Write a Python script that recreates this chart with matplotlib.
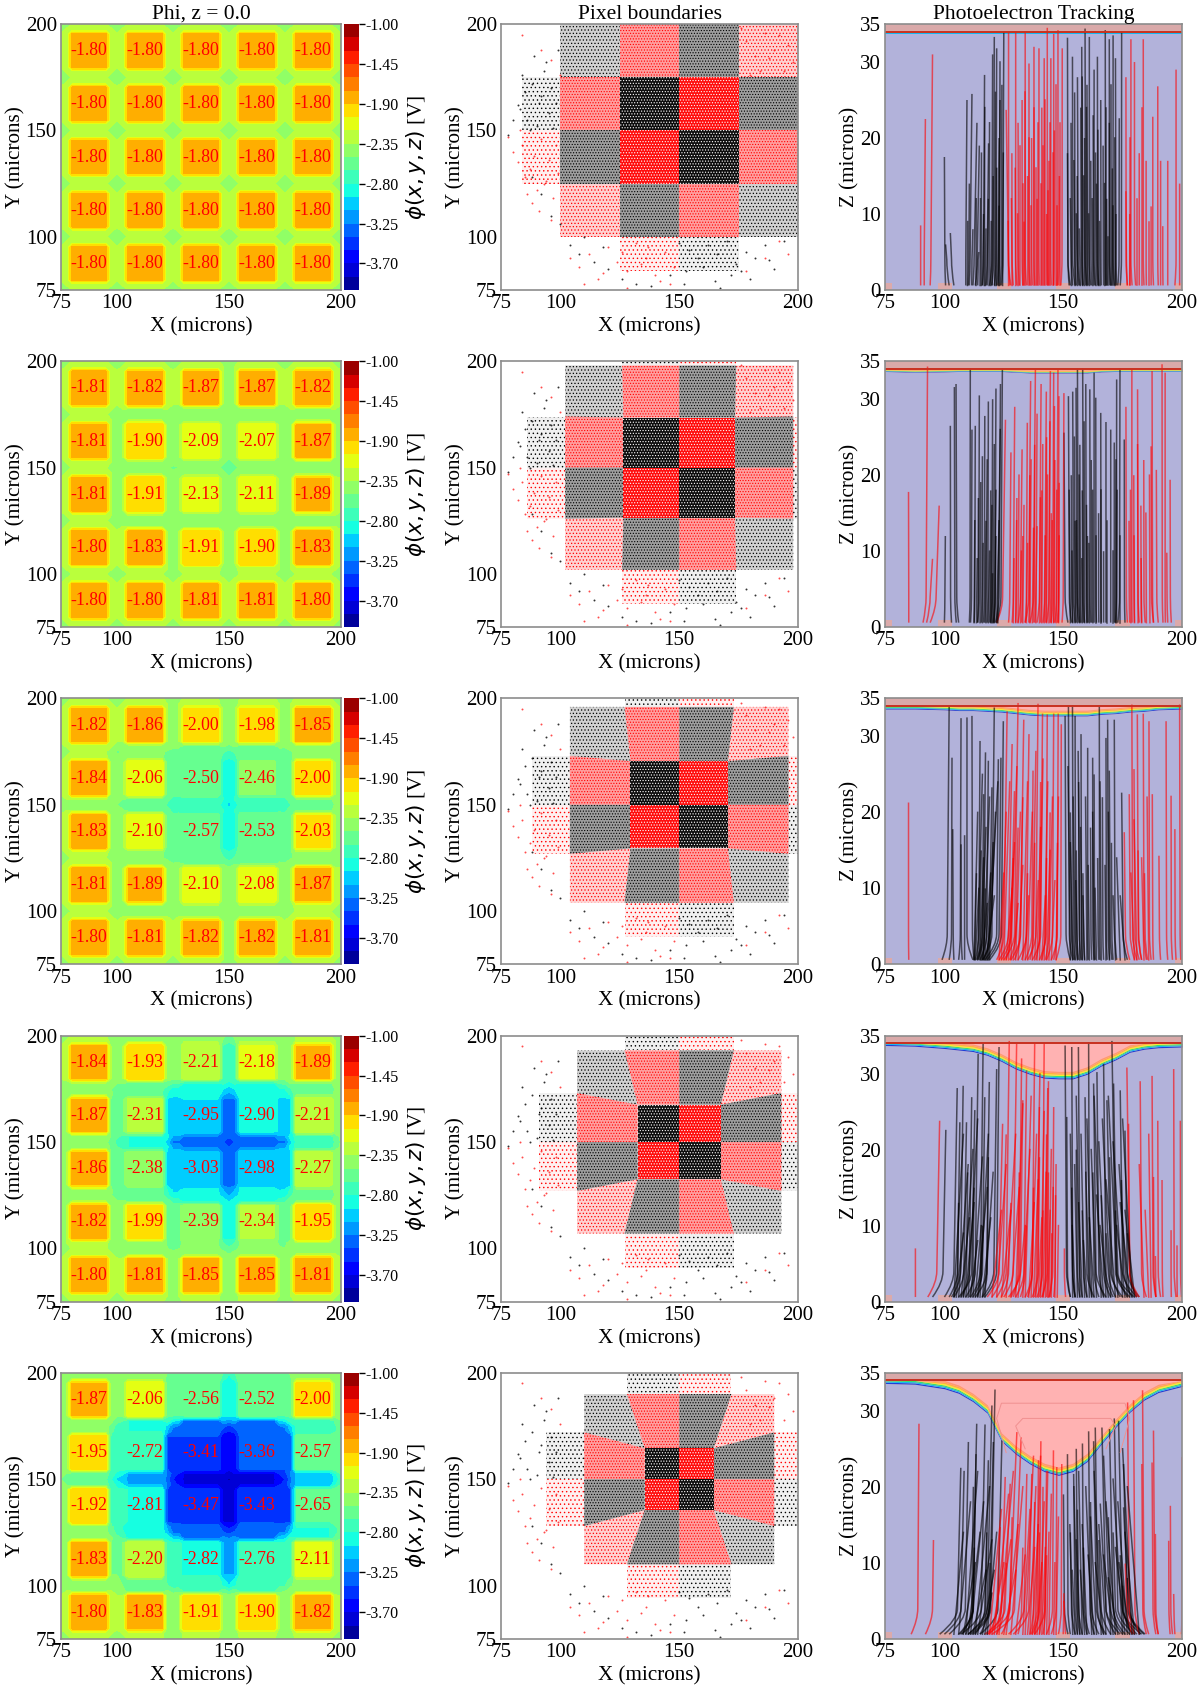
import numpy as np
import matplotlib
matplotlib.use('Agg')
import matplotlib.pyplot as plt
from matplotlib.colors import to_rgba
from matplotlib.patches import Polygon, Rectangle, PathPatch
from matplotlib.path import Path

plt.rcParams['font.family'] = ['Liberation Serif', 'DejaVu Sans']
plt.rcParams['mathtext.fontset'] = 'dejavusans'
plt.rcParams['hatch.linewidth'] = 0.5

# potential table, rows from y=200 to y=75, columns x=75..200 in 12.5 micron steps
# odd rows / columns are the pixel wells, even ones the channels between them
ch = [-2.44, -2.34, -2.44, -2.34, -2.44, -2.34, -2.44, -2.34, -2.44, -2.34, -2.44]
phi_1 = [ch, [-2.34, -1.80, -2.34, -1.80, -2.34, -1.80, -2.34, -1.80, -2.34, -1.80, -2.34]] * 5 + [ch]
phi_2 = [ch,
         [-2.34, -1.81, -2.34, -1.82, -2.34, -1.87, -2.36, -1.87, -2.34, -1.82, -2.34],
         [-2.44, -2.34, -2.44, -2.36, -2.46, -2.44, -2.50, -2.44, -2.46, -2.36, -2.44],
         [-2.34, -1.81, -2.36, -1.90, -2.42, -2.09, -2.48, -2.07, -2.42, -1.87, -2.36],
         [-2.44, -2.34, -2.46, -2.44, -2.52, -2.48, -2.60, -2.48, -2.50, -2.42, -2.44],
         [-2.34, -1.81, -2.36, -1.91, -2.42, -2.13, -2.48, -2.11, -2.42, -1.89, -2.34],
         [-2.44, -2.34, -2.44, -2.36, -2.46, -2.44, -2.50, -2.42, -2.46, -2.36, -2.44],
         [-2.34, -1.80, -2.34, -1.83, -2.36, -1.91, -2.38, -1.90, -2.36, -1.83, -2.34],
         ch,
         [-2.34, -1.80, -2.34, -1.80, -2.34, -1.81, -2.34, -1.81, -2.34, -1.80, -2.34],
         ch]
phi_3 = [[-2.44, -2.34, -2.44, -2.34, -2.42, -2.34, -2.50, -2.34, -2.42, -2.34, -2.44],
         [-2.34, -1.82, -2.34, -1.86, -2.36, -2.00, -2.40, -1.98, -2.36, -1.85, -2.34],
         [-2.42, -2.34, -2.52, -2.48, -2.56, -2.56, -2.70, -2.56, -2.58, -2.46, -2.44],
         [-2.34, -1.84, -2.42, -2.06, -2.62, -2.50, -2.85, -2.46, -2.60, -2.00, -2.36],
         [-2.42, -2.36, -2.50, -2.58, -2.78, -2.75, -3.00, -2.75, -2.78, -2.54, -2.44],
         [-2.34, -1.83, -2.40, -2.10, -2.62, -2.57, -2.85, -2.53, -2.60, -2.03, -2.36],
         [-2.42, -2.34, -2.50, -2.48, -2.60, -2.56, -2.72, -2.56, -2.60, -2.44, -2.44],
         [-2.34, -1.81, -2.36, -1.89, -2.40, -2.10, -2.46, -2.08, -2.38, -1.87, -2.34],
         [-2.42, -2.34, -2.44, -2.36, -2.46, -2.36, -2.50, -2.36, -2.44, -2.34, -2.44],
         [-2.34, -1.80, -2.34, -1.81, -2.34, -1.82, -2.36, -1.82, -2.34, -1.81, -2.34],
         ch]
phi_4 = [[-2.44, -2.34, -2.44, -2.36, -2.46, -2.36, -2.55, -2.36, -2.46, -2.34, -2.44],
         [-2.34, -1.84, -2.38, -1.93, -2.46, -2.21, -2.70, -2.18, -2.44, -1.89, -2.36],
         [-2.44, -2.38, -2.62, -2.62, -2.86, -2.85, -3.02, -2.85, -2.80, -2.54, -2.44],
         [-2.36, -1.87, -2.56, -2.31, -2.98, -2.95, -3.28, -2.90, -2.98, -2.21, -2.42],
         [-2.44, -2.46, -2.70, -2.80, -3.28, -3.28, -3.50, -3.28, -3.28, -2.76, -2.48],
         [-2.36, -1.86, -2.58, -2.38, -3.02, -3.03, -3.30, -2.98, -3.00, -2.27, -2.42],
         [-2.44, -2.38, -2.60, -2.60, -2.92, -2.92, -3.12, -2.92, -2.88, -2.54, -2.44],
         [-2.36, -1.82, -2.40, -1.99, -2.56, -2.39, -2.84, -2.34, -2.54, -1.95, -2.36],
         [-2.44, -2.34, -2.44, -2.46, -2.54, -2.48, -2.62, -2.48, -2.50, -2.36, -2.44],
         [-2.34, -1.80, -2.34, -1.81, -2.36, -1.85, -2.40, -1.85, -2.36, -1.81, -2.34],
         ch]
phi_5 = [[-2.44, -2.36, -2.46, -2.44, -2.56, -2.54, -2.78, -2.54, -2.56, -2.40, -2.46],
         [-2.36, -1.87, -2.46, -2.06, -2.62, -2.56, -2.92, -2.52, -2.62, -2.00, -2.44],
         [-2.46, -2.44, -2.72, -2.80, -3.22, -3.30, -3.42, -3.30, -3.22, -2.78, -2.56],
         [-2.40, -1.95, -2.74, -2.72, -3.40, -3.41, -3.68, -3.36, -3.38, -2.57, -2.56],
         [-2.50, -2.62, -2.98, -3.12, -3.55, -3.72, -3.88, -3.72, -3.55, -3.08, -2.72],
         [-2.40, -1.92, -2.76, -2.81, -3.42, -3.47, -3.72, -3.43, -3.42, -2.65, -2.56],
         [-2.46, -2.46, -2.70, -2.86, -3.28, -3.32, -3.46, -3.30, -3.25, -2.80, -2.58],
         [-2.40, -1.83, -2.50, -2.20, -2.78, -2.82, -3.10, -2.76, -2.76, -2.11, -2.44],
         [-2.44, -2.36, -2.44, -2.56, -2.74, -2.70, -2.96, -2.70, -2.66, -2.42, -2.44],
         [-2.34, -1.80, -2.34, -1.83, -2.40, -1.91, -2.42, -1.90, -2.38, -1.82, -2.34],
         ch]
phi_tables = [phi_1, phi_2, phi_3, phi_4, phi_5]

# sample position, table index, neighbouring well index for the channel shoulders (-1 = none)
grid_x = [75, 77.5, 80, 95, 97.5, 100, 102.5, 105, 120, 122.5, 125, 127.5, 130, 145, 147.5, 150, 152.5,
          155, 170, 172.5, 175, 177.5, 180, 195, 197.5, 200]
grid_i = [0, 0, 1, 1, 2, 2, 2, 3, 3, 4, 4, 4, 5, 5, 6, 6, 6, 7, 7, 8, 8, 8, 9, 9, 10, 10]
grid_n = [-1, 1, -1, -1, 1, -1, 3, -1, -1, 3, -1, 5, -1, -1, 5, -1, 7, -1, -1, 7, -1, 9, -1, -1, 9, -1]
well_x = [87.5, 112.5, 137.5, 162.5, 187.5]
color_levels = [-4.0 + 0.15 * i for i in range(21)]
cbar_ticks = [-1.00, -1.45, -1.90, -2.35, -2.80, -3.25, -3.70]

# pixel boundaries: half size of the inner cell, reach of the side cells, height of
# the side cells at their outer end
cell_a = [25, 23.5, 20.5, 17.5, 14.5]
cell_b = [50, 48, 46, 43, 40]
cell_d = [25, 24, 23, 23, 22]

# stray electrons outside the pixels, the same in every row
stray_black_x = [83, 85, 86, 88, 90, 91, 93, 95, 96, 80, 84, 89, 92, 94, 97, 98, 99, 87, 82, 78,
                 150, 154, 158, 162, 166, 170, 174, 178, 182, 186, 190, 194, 153, 160, 165, 172, 180, 188,
                 88, 92, 96, 100, 104, 108, 114, 120, 126, 132, 138, 110, 118, 146, 152, 167, 176]
stray_black_y = [160, 168, 155, 172, 152, 163, 178, 158, 170, 155, 176, 185, 166, 182, 151, 163, 188, 150, 162, 148,
                 97, 94, 90, 96, 92, 98, 87, 93, 90, 96, 85, 98, 84, 86, 79, 82, 80, 89,
                 128, 120, 110, 106, 96, 92, 88, 85, 80, 78, 77, 100, 95, 82, 78, 76, 84]
stray_red_x = [78, 80, 82, 84, 85, 87, 89, 90, 92, 94, 95, 97, 98, 99, 83, 86, 88, 91, 93, 96,
               104, 108, 112, 116, 120, 124, 128, 132, 136, 140, 144, 148, 110, 118, 126, 134, 142, 128, 137, 146,
               178, 182, 186, 190, 194, 198, 176, 184, 192, 196, 180, 188,
               84, 92, 100, 96, 192, 196, 186, 178]
stray_red_y = [147, 140, 135, 143, 128, 132, 138, 122, 146, 126, 136, 118, 143, 130, 150, 120, 116, 112, 125, 108,
               90, 86, 92, 80, 95, 88, 84, 97, 90, 82, 93, 86, 78, 83, 93, 87, 79, 76, 95, 78,
               192, 185, 196, 188, 178, 182, 198, 178, 195, 190, 176, 184,
               195, 188, 176, 183, 98, 92, 90, 84]

# depletion edge, z against x
edge_x = [75, 87.5, 100, 106, 112, 118, 124, 130, 136, 142, 148, 154, 160, 166, 172, 178, 184, 190, 200]
edge_1 = [33.7] * 19
edge_2 = [33.65, 33.55, 33.6, 33.65, 33.65, 33.65, 33.65, 33.55, 33.45, 33.45, 33.45, 33.45, 33.45, 33.6, 33.65, 33.65, 33.65, 33.65, 33.65]
edge_3 = [33.6, 33.6, 33.5, 33.4, 33.4, 33.3, 33.2, 33.0, 32.8, 32.7, 32.7, 32.7, 32.7, 32.9, 33.0, 33.2, 33.3, 33.5, 33.6]
edge_4 = [33.7, 33.6, 33.3, 33.1, 32.9, 32.4, 31.6, 30.6, 29.9, 29.4, 29.3, 29.3, 29.9, 31.0, 31.8, 32.8, 33.2, 33.4, 33.5]
edge_5 = [33.6, 33.5, 32.9, 32.3, 31.2, 29.7, 26.0, 24.3, 23.0, 22.0, 21.5, 22.0, 23.3, 25.6, 27.8, 29.8, 31.4, 32.4, 33.2]
edges = [edge_1, edge_2, edge_3, edge_4, edge_5]
layer_depth = [0.3, 0.4, 0.75, 1.0, 1.1]
gate_x = [(75, 78), (97.5, 103), (122, 128), (147, 153), (172, 178), (197, 200)]

# tracks: x at z=0.6, x at z=4, x at the top, z at the top
black_1 = [(100.5, 100.2, 100, 17.5), (104, 103, 102.5, 7.5), (102, 101, 100.5, 6), (109, 109, 109.5, 25),
           (110.5, 110.8, 111.6, 25.8), (112, 112.5, 113.7, 22), (113, 113.8, 114.7, 19), (110, 110.3, 110.5, 14),
           (111.5, 111.6, 112, 8), (114, 114.2, 114.5, 5), (116, 116.5, 116.9, 28.3), (117.5, 118, 118.6, 19.3),
           (119, 120, 120.3, 31), (120, 120.7, 121, 33.3), (121, 121.7, 122, 31.8), (122.5, 123, 123.4, 25),
           (124, 124.6, 125, 34), (118, 118.2, 118.5, 12), (120, 120.3, 120.5, 15), (116, 116.2, 116.5, 10),
           (122, 122.5, 123, 20), (123.5, 124, 124.2, 27), (153, 152, 151.8, 33.2), (155, 154, 153.9, 30.7),
           (157, 156.3, 156, 28), (158.5, 158, 157.8, 32), (160, 159.4, 159.2, 34.4), (161.5, 161, 161, 33.3),
           (163.5, 163, 163, 29), (165, 164.5, 164.4, 30.7), (168, 167.8, 167.7, 34.2), (170, 169.5, 169.4, 33),
           (171.5, 171, 171, 33.5), (172.5, 172.2, 172, 30.5), (174, 174.5, 174.6, 34), (173, 173.5, 173.6, 22.6),
           (152.5, 152, 151.8, 18), (154, 153.5, 153.3, 22), (155.5, 155, 154.8, 26), (156.5, 156, 155.9, 15),
           (158, 157.6, 157.4, 24), (159.5, 159.2, 159, 20), (160.5, 160.2, 160, 27), (162, 161.7, 161.6, 17),
           (163, 162.8, 162.6, 23), (164.5, 164.2, 164, 14), (166, 165.9, 165.8, 25), (167, 166.9, 166.8, 19),
           (168.5, 168.4, 168.3, 12), (169.5, 169.4, 169.4, 22), (170.5, 170.6, 170.7, 16), (172, 172.1, 172.2, 10)]
red_1 = [(90, 90, 90, 8.5), (91.5, 91.5, 92, 22.5), (94, 94.3, 95, 31), (128, 127, 126, 23.7), (127.5, 127, 127, 34),
         (130.5, 130, 130, 34), (133, 132.7, 132.7, 25), (134.5, 134, 134, 34), (136, 135.6, 135.6, 29.8),
         (138, 137.7, 137.7, 32), (140, 139.8, 139.8, 31.8), (142, 142, 142, 30.5), (143.5, 143.3, 143.3, 34.5),
         (145, 144.8, 144.8, 30.5), (146, 146, 146, 33.7), (147.5, 147.8, 147.8, 34.2), (149, 149.5, 149.6, 31.8),
         (129, 128.5, 128.4, 18), (131.5, 131.2, 131, 22), (135, 135, 135, 15), (137, 136.8, 136.7, 20),
         (139, 139, 139, 12), (141, 141, 141, 24), (144, 144, 144, 17), (146, 146.2, 146.3, 21), (148, 148.3, 148.4, 15),
         (143, 143, 143, 10), (133.5, 133.5, 133.5, 9), (177, 176.5, 176.4, 28), (179, 178.5, 178.5, 33),
         (180.5, 180, 180, 30), (184, 183.7, 183.7, 33), (188, 187.7, 187.7, 22.8), (190, 189.8, 189.8, 26.8),
         (191, 191, 191, 17), (194, 194, 194, 17), (197, 197.5, 197.5, 29), (199, 199, 199, 14), (182, 182, 182, 18),
         (185, 184.9, 184.9, 17), (192, 191.9, 191.9, 8.4), (187, 187, 187, 11), (177, 176.6, 176.4, 13), (178, 178, 178, 10)]
black_2 = [(100, 100.2, 100.4, 12), (103, 102.6, 102.5, 26.5), (105, 104.4, 104.2, 31.6), (106, 105.2, 104.9, 32),
           (110.5, 110.8, 110.9, 34), (111, 111.4, 111.6, 26), (112.5, 112.8, 113, 26.5), (114, 114.5, 114.7, 30.5),
           (115.5, 115.8, 116, 22.5), (116.5, 116.8, 117, 27.8), (118, 118.3, 118.5, 29.7), (119.5, 120, 120.3, 30),
           (120.5, 121.3, 121.7, 31.4), (121.5, 123, 123.6, 32), (122, 123.8, 124.4, 34), (117, 117.3, 117.5, 14),
           (114, 114.2, 114.3, 17), (119, 119.3, 119.5, 18), (121, 121.5, 121.7, 12), (152, 150.8, 150.3, 25.6),
           (153.5, 152.6, 152.2, 30.4), (155, 154.3, 154, 31), (156.5, 155.8, 155.4, 31.5), (157, 156.3, 156, 34),
           (159, 158.5, 158.2, 34), (160, 159.7, 159.5, 32), (161.5, 161.3, 161.2, 31.3), (163, 163, 163, 33.5),
           (164, 163.8, 163.7, 30.2), (166, 165.9, 165.8, 28.2), (168, 168, 168, 27), (170, 170, 170, 26),
           (171.5, 171.5, 171.5, 24.3), (172, 172.4, 172.5, 32.6), (173, 173.7, 173.9, 34), (176, 175.8, 175.7, 24.7),
           (154, 153.6, 153.4, 20), (155.5, 155.2, 155, 14), (157.5, 157.2, 157, 24), (158.5, 158.2, 158, 18),
           (160.5, 160.3, 160.2, 12), (162, 161.9, 161.8, 22), (165, 164.9, 164.9, 15), (167, 167, 167, 10)]
red_2 = [(85, 85, 84.9, 17.8), (91, 92.3, 92.9, 34.3), (92.5, 94, 95, 9), (94, 96.5, 97.8, 16), (122, 124.5, 125.7, 27.3),
         (127, 127.5, 128, 23), (128.5, 129, 129.6, 29), (131, 132, 132.7, 23.4), (134, 135.5, 136.3, 32.4),
         (136, 137.5, 138.3, 33.9), (139, 140, 140.7, 32), (141.5, 142.3, 142.9, 31), (143, 144, 144.6, 33.7),
         (145, 145.6, 146, 33.5), (146.5, 147.3, 147.8, 33.9), (147.5, 148, 148.2, 30.4), (149.5, 150, 150.3, 30.8),
         (134, 134.5, 134.9, 26.9), (138, 138.5, 139, 13.3), (130, 130.3, 130.5, 17), (132.5, 132.8, 133, 12),
         (135.5, 135.8, 136, 20), (137.5, 137.8, 138, 24), (140.5, 140.8, 141, 18), (142.5, 142.8, 143, 25),
         (144.5, 144.8, 145, 15), (146, 146.3, 146.5, 22), (148, 148.2, 148.3, 19), (177, 176.6, 176.4, 29),
         (179, 178.9, 178.9, 33.9), (182, 181.5, 181.3, 31.3), (184.5, 184, 183.9, 22), (188, 187.2, 187, 23.8),
         (188, 187.6, 187.4, 33.7), (190, 189.4, 189.2, 20.7), (192, 191.7, 191.6, 34.6), (193, 192.9, 192.9, 33.5),
         (194, 193.7, 193.6, 9.8), (195.5, 195.1, 195, 19.4), (178, 177.8, 177.7, 14), (180, 179.8, 179.7, 20), (183, 182.8, 182.7, 16)]
black_3 = [(99, 101.2, 102, 34), (102, 103, 103.2, 27.2), (104, 103.7, 103.5, 17.8), (106, 106.7, 107, 32.4),
           (107.5, 107.1, 107, 15.8), (108.5, 108.5, 108.5, 17), (112, 109.5, 109.5, 32.5), (112.5, 111.8, 111.6, 32.7),
           (113, 114.5, 115, 29.4), (114, 116.5, 117.3, 27.9), (115, 117.8, 118.5, 26.8), (116, 120, 121, 33.8),
           (117, 122, 122.7, 27), (118, 123, 123.8, 27.2), (119, 124, 124.8, 32), (113.5, 116, 116.5, 22.4),
           (116.5, 119, 120, 23.3), (112.5, 113, 113.5, 12), (114.5, 115, 115.5, 15), (116, 116.8, 117.2, 10),
           (153, 151.2, 150.8, 32.7), (154, 152.6, 152.2, 34), (155, 154.2, 153.9, 34.1), (156, 155.2, 155, 32.7),
           (158, 157.7, 157.5, 30.3), (160.5, 160.3, 160.3, 28.5), (163, 162.5, 162.4, 27.2), (165.5, 165.3, 165.2, 34),
           (168.5, 168.2, 168, 29.8), (169.5, 169, 168.7, 32.2), (172.5, 171.8, 171.5, 32.2), (170.5, 169.8, 169.4, 25.5),
           (177, 175.2, 174.6, 22.6), (163.5, 163.2, 163, 25), (154.5, 153.5, 153, 20), (156.5, 155.8, 155.5, 15),
           (157.5, 156.8, 156.5, 24), (159, 158.5, 158.3, 12), (162, 161.7, 161.5, 18), (165, 164.7, 164.5, 14),
           (167, 166.7, 166.5, 22), (171, 170.5, 170.3, 16)]
red_3 = [(85, 84.9, 84.9, 21.3), (122, 125, 126.4, 33.3), (123, 127, 128.5, 29), (125, 129.5, 131, 34.4), (128, 132, 133.4, 32.2),
         (131, 134.5, 135.6, 30.3), (135, 138.5, 139.4, 34.3), (137, 140.5, 141.3, 33), (140, 142.8, 143.3, 32.9),
         (143, 145.5, 146, 33), (145, 147.5, 147.9, 33), (147, 149, 149.2, 31.6), (134, 136.8, 137.3, 25.5),
         (124, 128, 129.5, 22.8), (126, 128, 129, 14), (127.5, 130, 131, 18), (129.5, 132, 133, 22), (132.5, 134.5, 135, 12),
         (136, 137.5, 138, 16), (138.5, 140, 140.5, 24), (141, 142.5, 143, 14), (142.5, 144, 144.5, 20), (146, 147.3, 147.6, 16),
         (181, 179.2, 178.9, 34.2), (180, 178.2, 177.8, 22.4), (182, 180.2, 179.8, 25.7), (183, 181.6, 181.2, 32.9),
         (185, 184, 183.7, 33), (187, 186.3, 186.1, 32), (188, 187.7, 187.5, 22.4), (191, 190.5, 190.3, 14.3),
         (194, 193.5, 193.3, 32), (196, 195.5, 195.4, 22.2), (197.5, 197.1, 197, 17.8), (199.5, 199.2, 199, 34.2),
         (178, 176.2, 175.7, 17.4), (183, 181.8, 181.5, 15), (185.5, 184.5, 184.2, 12)]
black_4 = [(95, 99.4, 100.6, 22.6), (100, 104, 105.4, 28.1), (103, 106.8, 107.9, 28.4), (104, 108.2, 109.3, 23.6),
           (107, 110.5, 111.5, 26.9), (109, 113, 114.2, 32.6), (111, 115.2, 116.3, 33.9), (113, 117.8, 118.9, 28.9),
           (116, 120.8, 122, 30.6), (117, 122, 123, 33.5), (102, 105.6, 106.5, 23.6), (106, 111.5, 112.8, 25.2),
           (112, 116, 117, 26.9), (104, 105.5, 106, 13), (108, 109.3, 109.8, 17), (110.5, 112, 112.5, 15),
           (114, 115.5, 116, 10), (116, 118, 118.5, 19), (153, 151.4, 150.8, 33.7), (155, 154, 153.6, 33.5),
           (158, 157, 156.4, 33.5), (162, 161, 160.7, 34.1), (167, 165, 164.2, 30.2), (171, 168, 167, 31.3), (178, 172, 170.5, 34.3),
           (180, 172.5, 171.2, 28.7), (181, 175, 174, 27.8), (182, 177, 176, 22.5), (163, 160, 159.2, 26.9), (168, 163.8, 162.8, 28.7),
           (153, 151.8, 151.5, 24.3), (175, 170, 168.4, 26.5), (155, 154, 153.6, 15), (157, 156, 155.5, 20), (160, 158.5, 158, 12),
           (165, 163, 162.5, 17), (170, 167, 166, 14), (174, 170.5, 169.5, 19), (177, 173, 172, 12), (179, 175.5, 174.5, 16),
           (181, 178, 177, 9), (172, 169, 168, 9)]
red_4 = [(93, 96.8, 98, 23.8), (87.8, 87.8, 87.8, 7), (118, 123, 124.5, 23.4), (122, 126, 127.3, 34.3), (125, 129, 130.4, 33.9),
         (128, 131.5, 132.5, 32), (130, 133.5, 134.6, 30.4), (134, 137, 138, 33.9), (139, 141.3, 142, 34), (141, 143.2, 143.8, 29),
         (144, 145.6, 146, 25.6), (120, 124.5, 126, 22), (127, 132, 133, 26.5), (137, 139.3, 140, 25.6), (135, 137, 137.5, 15),
         (138, 139.5, 140, 19), (140, 141, 141.5, 12), (141.5, 142.5, 143, 22), (143, 143.5, 143.8, 17), (144.5, 145, 145.2, 9),
         (124, 127, 128, 13), (129, 131, 131.5, 17), (132, 134, 134.5, 10), (146, 146.6, 146.8, 14), (151, 150.5, 150.5, 7),
         (182, 178, 176.8, 30.8), (185, 183, 182.4, 29), (189, 187.8, 187.4, 29.7), (191, 190, 189.8, 23.8), (197.5, 196.7, 196.5, 30.6),
         (199.8, 199.4, 199.3, 23.8), (181, 178, 177.5, 23.4), (189, 188.2, 188, 16.4), (192, 191.7, 191.6, 16), (195.5, 195.4, 195.4, 9.4),
         (198, 197.9, 197.9, 7.4), (189, 188.9, 188.8, 6)]
black_5 = [(112, 119.5, 121.3, 32.8), (110, 118, 120, 30.7), (106, 112, 113.6, 28.3), (107, 115.5, 117.1, 28.2), (102, 108.8, 110.1, 25.9),
           (98, 105.5, 106.9, 22.5), (100, 107, 108.3, 22.1), (111, 119, 120.6, 25.9), (115, 122.5, 124.2, 26.1), (106.5, 112.2, 113.3, 24.3),
           (107.5, 111.5, 112.2, 20), (110, 117.3, 118.5, 23.5), (113, 117, 117.8, 14), (115, 118.5, 119.2, 10), (109, 112, 112.6, 12),
           (153, 152, 151.8, 24.3), (157, 156, 155.5, 25), (160, 158.5, 158.1, 25.7), (163, 161.3, 160.7, 27.3), (167, 164.5, 163.5, 27.8),
           (172, 168, 166.3, 27.8), (176, 171, 169.5, 27.6), (180, 173, 171.5, 29), (183, 175, 173.3, 28.7), (184, 177, 175.4, 23),
           (168, 164, 162.8, 26), (152, 150.5, 150.1, 19), (156, 155, 154.4, 21.7), (174, 168, 165.6, 17.8), (184.5, 177.5, 175.4, 17.3),
           (155, 153.5, 153, 14), (158, 156.5, 156, 17), (161, 159, 158.5, 12), (165, 162, 161.5, 18), (170, 166, 165, 13), (175, 170, 169, 16),
           (178, 172, 171, 14), (181, 175, 174, 11), (182.5, 178, 177, 8), (179, 175.5, 175, 7)]
red_5 = [(86, 88.8, 89.3, 28.3), (92, 95, 95.4, 13), (118, 127.5, 130.5, 27.2), (120, 129.5, 132.3, 26.5), (117, 125.5, 127.7, 20.4),
         (119, 124, 125.6, 21.3), (137, 140, 140.6, 26), (136.5, 139, 139.6, 23.5), (143, 145.5, 145.9, 24.8), (148, 149.2, 149.4, 23),
         (127, 133.5, 134.7, 21.7), (129, 135.5, 136.8, 21.7), (138, 142.3, 143, 22.1), (118.5, 122, 123.5, 14.7), (145, 147, 147.3, 22.6),
         (122, 125, 126, 10), (124, 127.5, 128.5, 16), (131, 132.5, 133, 12), (136, 137.5, 138, 18), (138, 139.5, 140, 14), (140, 141, 141.5, 20),
         (141.5, 142.5, 143, 11), (150, 150.2, 150.3, 6), (151, 150.5, 150.3, 5),
         (180, 177.8, 177.1, 31.1), (182, 180.2, 179.6, 31.4), (186, 184, 183.4, 32.7), (190, 188.5, 188, 27.4), (189, 187.8, 187.4, 23.2),
         (185, 183.5, 183.1, 23), (196, 195.3, 195.1, 17.5), (195, 194.5, 194.4, 12.9), (199.8, 200, 200, 23.9), (190, 189, 188.8, 13.8),
         (179, 176.8, 176.1, 9.9), (197, 196.6, 196.5, 5.9)]
tracks_black = [black_1, black_2, black_3, black_4, black_5]
tracks_red = [red_1, red_2, red_3, red_4, red_5]

# shorter tracks filling the dense parts of the bundles: x at the foot, x at the top, z at the top
more_black_1 = [(116.8, 117, 24), (117.2, 117.5, 8), (118.8, 119, 22), (119.5, 119.7, 9), (121.2, 121.5, 26), (121.8, 122, 16),
                (122.8, 123, 11), (123.2, 123.4, 30), (124.5, 124.8, 18), (115, 115.2, 12), (115.5, 115.6, 18), (113.3, 113.4, 12),
                (109.7, 109.8, 9), (153.5, 153, 12), (156, 155.5, 10), (157.2, 156.8, 8), (159, 158.6, 15), (161, 160.7, 10),
                (162.5, 162.2, 12), (163.8, 163.6, 18), (165.5, 165.3, 9), (167.5, 167.4, 14), (169, 169, 7), (171, 171, 11),
                (171.8, 171.7, 20), (155, 154.5, 17), (158.2, 158, 28), (160, 159.8, 24), (164.8, 164.6, 21), (168, 168, 24), (170, 170, 27)]
more_red_1 = [(127, 126.8, 9), (128.5, 128.2, 12), (130, 129.8, 16), (131, 130.8, 10), (132, 132, 19), (133, 133, 14), (134, 134, 26),
              (135.5, 135.5, 20), (136.5, 136.5, 11), (137.5, 137.5, 24), (138.5, 138.5, 16), (139.5, 139.5, 22), (140.5, 140.5, 14),
              (141.5, 141.5, 19), (142.5, 142.5, 25), (143.5, 143.5, 13), (144.5, 144.5, 22), (145.5, 145.5, 18), (146.8, 146.8, 27),
              (147.5, 147.5, 11), (148.7, 148.7, 22), (178, 178, 20), (181, 181, 12), (183, 183, 24), (186, 186, 9)]
more_black_2 = [(112.5, 112.8, 14), (113.5, 113.8, 9), (115, 115.3, 19), (116, 116.3, 11), (117.5, 118, 22), (118.5, 119, 10),
                (119.5, 120, 16), (120.5, 121, 24), (121, 121.7, 18), (122, 123, 14), (122.5, 123.5, 26), (120, 120.3, 7),
                (153, 152.5, 18), (154, 153.7, 10), (155, 154.7, 25), (156, 155.6, 14), (157, 156.7, 20), (158, 157.8, 9),
                (159, 158.8, 27), (160, 159.8, 16), (161, 160.8, 11), (162.5, 162.4, 18), (164, 164, 12), (166, 166, 18),
                (168.5, 168.5, 14), (171, 171, 10), (172.5, 172.7, 18), (174, 174, 12), (172, 172.2, 22)]
more_red_2 = [(129, 129.3, 9), (130, 130.4, 14), (131, 131.4, 20), (132, 132.4, 10), (133, 133.5, 16), (134.5, 135, 11), (136, 136.5, 22),
              (137, 137.5, 13), (138.5, 139, 28), (140, 140.4, 17), (141, 141.4, 24), (142, 142.4, 12), (143, 143.4, 20), (144, 144.4, 27),
              (145, 145.4, 14), (146, 146.3, 29), (147, 147.3, 18), (148, 148.3, 12), (178.5, 178.3, 18), (180, 179.8, 12),
              (181.5, 181.3, 24), (183, 182.8, 9), (185, 184.8, 15), (186.5, 186.3, 20)]
more_black_3 = [(112.5, 114, 20), (113, 114.5, 10), (114, 116, 25), (115, 116.5, 14), (115.5, 117.5, 18), (116, 118, 8), (116.5, 119, 22),
                (117, 119.5, 12), (118, 120.5, 16), (119, 121.5, 20), (118.5, 122.5, 24), (117.5, 121, 9),
                (153, 152, 26), (154, 153, 16), (155, 154.2, 22), (156, 155.3, 11), (157, 156.3, 28), (158, 157.3, 18), (159, 158.3, 9),
                (160, 159.4, 22), (161, 160.5, 13), (163, 162.4, 20), (164, 163.4, 10), (166, 165.5, 24), (168, 167.6, 13),
                (169.5, 169, 20), (172, 171, 9), (174, 172.5, 14), (176, 174, 9)]
more_red_3 = [(123, 125, 12), (124, 126, 20), (125, 127.5, 24), (126, 128.5, 10), (127, 129.5, 16), (128, 130.5, 26), (129, 131, 8),
              (130, 132, 20), (131, 133, 13), (133, 135, 24), (134, 135.5, 9), (135, 137, 20), (137, 138.5, 28), (138, 139.5, 11),
              (139, 140.5, 18), (140, 141.5, 27), (141, 142.5, 9), (142, 143.5, 24), (143, 144.5, 15), (144, 145.5, 22), (145, 146.5, 11),
              (147, 148, 22), (180, 178.5, 12), (181, 179.8, 19), (184, 183, 14), (186, 185.3, 22)]
more_black_4 = [(104, 108, 22), (105, 108, 9), (106, 110, 18), (107, 110.5, 11), (108, 112, 20), (109, 112.5, 13), (110, 114, 24), (111, 114, 8),
                (112, 116, 19), (113, 115.5, 10), (114, 118, 15), (115, 118.5, 22), (116, 119.5, 11), (117, 120.5, 17),
                (154, 153, 22), (155, 153.8, 10), (156, 154.8, 18), (157, 155.5, 27), (158, 156.5, 13), (159, 157.5, 22), (160, 158.5, 8),
                (161, 159.5, 17), (162, 160, 24), (163, 161, 11), (164, 161.8, 20), (166, 163, 27), (167, 164, 14), (168, 165, 21),
                (169, 165.5, 10), (170, 166.5, 24), (172, 168, 16), (173, 169, 27), (175, 171, 21), (176, 172.5, 10), (177, 173.5, 18),
                (178, 174, 13), (179, 175, 24), (180, 176, 12)]
more_red_4 = [(120, 124, 12), (122, 126, 18), (124, 128, 12), (126, 130, 22), (128, 131.5, 15), (130, 133, 26), (131, 134, 10), (133, 136, 20),
              (134, 136.5, 27), (135.5, 137.8, 13), (136.5, 138.8, 22), (137.5, 139.5, 16), (138.5, 140.2, 30), (139.5, 141, 11),
              (140.5, 142, 25), (141.5, 142.8, 17), (142.5, 143.5, 28), (143.5, 144.5, 12), (144, 145, 20), (145, 145.8, 15),
              (146.5, 147, 18), (147.5, 148, 10), (184, 182, 18), (186, 184.5, 12), (187, 186, 22)]
more_black_5 = [(104, 108, 14), (106, 111, 18), (108, 113, 10), (109, 114, 22), (110, 115, 14), (111, 116.5, 18), (112, 117.5, 9), (113, 119, 20),
                (114, 120, 13), (116, 121, 9), (117, 120, 6), (118, 122, 14),
                (154, 152.8, 15), (155, 153.8, 9), (156, 154.5, 20), (157, 155.5, 13), (158, 156.5, 22), (159, 157.2, 9), (160, 158, 15),
                (162, 159.5, 20), (163, 160.5, 11), (164, 161.5, 16), (166, 163, 22), (167, 163.5, 10), (168, 165, 15), (170, 167, 24),
                (171, 167, 11), (172, 168, 18), (173, 169, 8), (175, 171, 21), (176, 172, 12), (177, 173, 18), (178, 173.5, 10),
                (179, 175, 25), (180, 176, 14), (182, 177, 20)]
more_red_5 = [(119, 124, 17), (120, 125, 10), (121, 127, 19), (122, 128, 13), (123, 129, 22), (125, 130, 9), (126, 131, 15), (128, 133, 20),
              (130, 134, 11), (133, 136, 17), (134, 137.5, 24), (135, 138, 12), (136, 138.5, 20), (137, 139.5, 15), (138, 140.5, 24),
              (139, 141, 10), (140, 142, 18), (141, 142.5, 12), (142, 143.5, 22), (143, 144, 14), (144, 145, 19), (146, 146.5, 10), (147, 148, 16)]
more_black = [more_black_1, more_black_2, more_black_3, more_black_4, more_black_5]
more_red = [more_red_1, more_red_2, more_red_3, more_red_4, more_red_5]

# faint equipotential lines in the collecting well, last row only
faint_x_1 = [126, 122, 124, 132, 168, 176, 178, 174]
faint_z_1 = [24.5, 29, 31, 31, 31, 31, 29, 24.5]
faint_x_2 = [134, 130, 133, 140, 162, 170, 172, 168]
faint_z_2 = [25, 28, 29, 29, 29, 29, 28, 25]

layer_colors = ['#1f3fd8', '#19b8f0', '#38e070', '#f2f030', '#ffb040', '#ff9a70']
layer_steps = [0.15, 0.3, 0.45, 0.62, 0.8, 1.0]


def box(px_left, px_top, px_w, px_h):
    return [px_left / 1200, 1 - (px_top + px_h) / 1687, px_w / 1200, px_h / 1687]


def style(ax, xlab, ylab, yticks):
    ax.set_xlim(75, 200)
    ax.set_xticks([75, 100, 150, 200])
    ax.set_yticks(yticks)
    ax.tick_params(labelsize=15, length=0, pad=3)
    ax.set_xlabel(xlab, fontsize=15.2, labelpad=3)
    ax.set_ylabel(ylab, fontsize=15.2, labelpad=0)
    for s in ax.spines.values():
        s.set_color('#8c8c8c')
        s.set_linewidth(1.2)


def expand_table(table):
    # wells stay flat, channels get a shoulder so the drop from the well is short
    t = np.array(table)
    z = np.zeros((len(grid_x), len(grid_x)))
    for r in range(len(grid_x)):
        for c in range(len(grid_x)):
            i, j, ni, nj = grid_i[r], grid_i[c], grid_n[r], grid_n[c]
            if ni >= 0 and nj >= 0:
                z[r, c] = (t[i, nj] + t[ni, j]) / 2
            elif nj >= 0:
                z[r, c] = t[i, j] if i % 2 else (t[i, j] + t[i, nj]) / 2
            elif ni >= 0:
                z[r, c] = t[i, j] if j % 2 else (t[i, j] + t[ni, j]) / 2
            else:
                z[r, c] = t[i, j]
    return z


def draw_phi(ax, cax, table):
    z = expand_table(table[::-1])
    cf = ax.contourf(grid_x, grid_x, z, levels=color_levels, cmap='jet')
    for i, x in enumerate(well_x):
        for j, y in enumerate(well_x):
            ax.text(x, y, '%.2f' % table[2 * (4 - j) + 1][2 * i + 1], color='red', fontsize=12.8,
                    ha='center', va='center')
    style(ax, 'X (microns)', 'Y (microns)', [75, 100, 150, 200])
    ax.set_ylim(75, 200)
    cb = plt.colorbar(cf, cax=cax, ticks=cbar_ticks, format='%.2f')
    cb.ax.tick_params(labelsize=11.5, length=4, width=1, pad=1)
    cb.outline.set_visible(False)
    cb.set_label(r'$\phi(x,y,z)$ [V]', fontsize=15.5, labelpad=4)


def cell(ax, verts, sx, sy, color, hatch, tone, speck=None):
    pts = [(150 + sx * u, 150 + sy * v) for u, v in verts]
    ax.add_patch(Polygon(pts, facecolor=to_rgba(color, tone), edgecolor=speck or color, hatch=hatch, lw=0))


def draw_pixels(ax, a, b, d):
    e = 16
    for sx, sy, inner, other in [(1, 1, 'red', 'black'), (-1, 1, 'black', 'red'),
                                 (-1, -1, 'red', 'black'), (1, -1, 'black', 'red')]:
        # outer sparse cells first
        cell(ax, [(b, 0), (b + e, 0), (b + e, d), (b, d)], sx, sy, inner, '....', 0.06)
        cell(ax, [(0, b), (0, b + e), (d, b + e), (d, b)], sx, sy, inner, '....', 0.06)
        cell(ax, [(a, a), (b, d), (b, b), (d, b)], sx, sy, inner, '.....', 0.18)
        cell(ax, [(a, 0), (b, 0), (b, d), (a, a)], sx, sy, other, '......', 0.38)
        cell(ax, [(0, a), (a, a), (d, b), (0, b)], sx, sy, other, '......', 0.38)
        cell(ax, [(0, 0), (a, 0), (a, a), (0, a)], sx, sy, inner, '......', 0.95, speck='white')
    ax.scatter(stray_black_x, stray_black_y, s=2, c='black', linewidths=0, alpha=0.8)
    ax.scatter(stray_red_x, stray_red_y, s=2, c='red', linewidths=0, alpha=0.7)
    style(ax, 'X (microns)', 'Y (microns)', [75, 100, 150, 200])
    ax.set_ylim(75, 200)


def draw_tracking(ax, edge, depth, black, red, black2, red2, faint=False):
    edge = np.array(edge)
    ax.set_facecolor('#b2b2da')
    ax.fill_between(edge_x, edge, 35, color='#ffb2b2', lw=0)
    lower = edge
    for step, c in zip(layer_steps, layer_colors):
        upper = np.minimum(edge + step * depth, 34)
        ax.fill_between(edge_x, lower, upper, color=c, lw=0)
        lower = upper
    ax.fill_between([75, 200], 34, 35, color='#d9a9a9', lw=0)
    ax.plot([75, 200], [34, 34], color='#c83020', lw=1.4)
    if faint:
        ax.plot(faint_x_1, faint_z_1, color='#f09090', lw=0.7)
        ax.plot(faint_x_2, faint_z_2, color='#f09090', lw=0.7)
    for g0, g1 in gate_x:
        ax.add_patch(Rectangle((g0, 0), g1 - g0, 0.9, facecolor='#dcaaaa', edgecolor='none'))
    for tracks, short, c in [(black, black2, 'black'), (red, red2, 'red')]:
        for foot, knee, top, ztop in tracks:
            verts = [(foot, 0.6), (knee, 2.5), (knee, 4), (top, ztop)]
            codes = [Path.MOVETO, Path.CURVE3, Path.CURVE3, Path.LINETO]
            ax.add_patch(PathPatch(Path(verts, codes), fill=False, edgecolor=c, lw=1.1, alpha=0.6))
        for foot, top, ztop in short:
            ax.plot([foot, top], [0.6, ztop], color=c, lw=1.1, alpha=0.6)
    style(ax, 'X (microns)', 'Z (microns)', [0, 10, 20, 30, 35])
    ax.set_ylim(0, 35)


fig = plt.figure(figsize=(12, 16.87), dpi=100)
for row in range(5):
    top = 24 + 337.2 * row
    ax1 = fig.add_axes(box(61, top, 280, 266))
    cax = fig.add_axes(box(343.5, top, 15, 266))
    ax2 = fig.add_axes(box(501, top, 297, 266))
    ax3 = fig.add_axes(box(885, top, 297, 266))
    draw_phi(ax1, cax, phi_tables[row])
    draw_pixels(ax2, cell_a[row], cell_b[row], cell_d[row])
    draw_tracking(ax3, edges[row], layer_depth[row], tracks_black[row], tracks_red[row],
                  more_black[row], more_red[row], faint=row == 4)
    if row == 0:
        ax1.set_title('Phi, z = 0.0', fontsize=15.5, pad=2)
        ax2.set_title('Pixel boundaries', fontsize=15.5, pad=2)
        ax3.set_title('Photoelectron Tracking', fontsize=15.5, pad=2)

fig.savefig('out.png', dpi=100)
